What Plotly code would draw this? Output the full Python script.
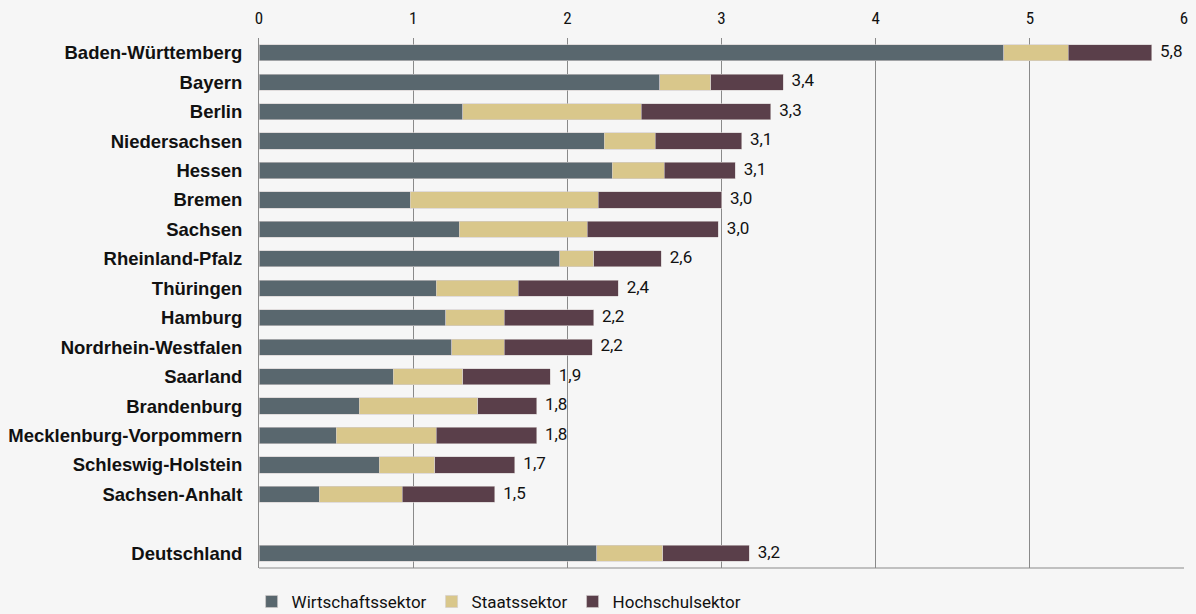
import plotly.graph_objects as go

regions = ["Baden-Württemberg", "Bayern", "Berlin", "Niedersachsen", "Hessen", "Bremen",
           "Sachsen", "Rheinland-Pfalz", "Thüringen", "Hamburg", "Nordrhein-Westfalen",
           "Saarland", "Brandenburg", "Mecklenburg-Vorpommern", "Schleswig-Holstein",
           "Sachsen-Anhalt", "Deutschland"]
wirtschaft = [4.83, 2.60, 1.32, 2.24, 2.29, 0.98, 1.30, 1.95, 1.15, 1.21, 1.25, 0.87, 0.65, 0.50, 0.78, 0.39, 2.19]
staat =      [0.42, 0.33, 1.16, 0.33, 0.34, 1.22, 0.83, 0.22, 0.53, 0.38, 0.34, 0.45, 0.77, 0.65, 0.36, 0.54, 0.43]
hochschule = [0.54, 0.47, 0.84, 0.56, 0.46, 0.80, 0.85, 0.44, 0.65, 0.58, 0.57, 0.57, 0.38, 0.65, 0.52, 0.60, 0.56]
totals =     [5.8, 3.4, 3.3, 3.1, 3.1, 3.0, 3.0, 2.6, 2.4, 2.2, 2.2, 1.9, 1.8, 1.8, 1.7, 1.5, 3.2]
category_order = regions[:16] + [" "] + [regions[16]]
x_ticks = [0, 1, 2, 3, 4, 5, 6]

BG = "#f6f6f6"
colors = {"Wirtschaftssektor": "#59676e", "Staatssektor": "#d9c78b", "Hochschulsektor": "#5a3f4a"}

fig = go.Figure()
for name, vals in [("Wirtschaftssektor", wirtschaft), ("Staatssektor", staat), ("Hochschulsektor", hochschule)]:
    fig.add_trace(go.Bar(
        y=regions, x=vals, name=name, orientation="h",
        marker=dict(color=colors[name], line=dict(color="#d2cccc", width=0.6)),
        hoverinfo="x+y",
    ))

sums = [w + s + h for w, s, h in zip(wirtschaft, staat, hochschule)]
fig.add_trace(go.Scatter(
    y=regions, x=sums, mode="text",
    text=["  " + f"{t:.1f}".replace(".", ",") for t in totals],
    textposition="middle right",
    textfont=dict(family="Roboto", size=17, color="#111111"),
    showlegend=False, cliponaxis=False, hoverinfo="skip",
))

fig.update_layout(
    barmode="stack", bargap=0.45,
    width=1196, height=614,
    paper_bgcolor=BG, plot_bgcolor=BG,
    margin=dict(l=259, r=12, t=38, b=46, autoexpand=False),
    font=dict(family="Roboto", color="#111111"),
    legend=dict(orientation="h", x=-0.008, xanchor="left", y=-0.064, yanchor="middle",
                font=dict(family="Roboto", size=17, color="#111111"),
                itemwidth=30, traceorder="normal", bgcolor="rgba(0,0,0,0)"),
    xaxis=dict(side="top", range=[0, 6], tickvals=x_ticks, ticktext=[str(t) for t in x_ticks],
               showgrid=True, gridcolor="#8a8a8a", gridwidth=1, zeroline=False,
               showline=False, ticks="outside", ticklen=6, tickcolor=BG,
               tickfont=dict(family="Liberation Sans Narrow, Roboto Condensed, Roboto", size=17, color="#111111"),
               fixedrange=True),
    yaxis=dict(type="category", categoryorder="array", categoryarray=category_order,
               range=[17.5, -0.5], showgrid=False, showline=True, linecolor="#8a8a8a", linewidth=1,
               ticks="", ticklabelstandoff=12, fixedrange=True,
               tickfont=dict(family="Liberation Sans, Arial", size=18.5, color="#111111", weight="bold")),
    shapes=[dict(type="line", xref="paper", yref="paper", x0=0, x1=1, y0=0, y1=0,
                 line=dict(color="#8a8a8a", width=1))],
)

fig.write_html("out.html", config={"displayModeBar": False},
               post_script="document.body.style.margin='0';document.body.style.background='%s';" % BG)
